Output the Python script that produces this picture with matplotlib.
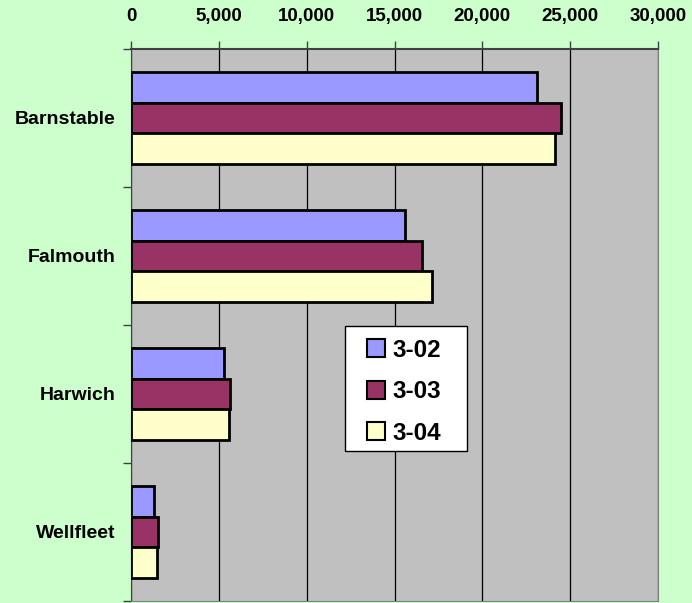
import matplotlib.pyplot as plt
from matplotlib.patches import Rectangle
import numpy as np

towns = ['Barnstable', 'Falmouth', 'Harwich', 'Wellfleet']
series = ['3-02', '3-03', '3-04']
v_302 = [23100, 15600, 5300, 1320]
v_303 = [24500, 16550, 5640, 1540]
v_304 = [24150, 17150, 5600, 1460]
colors = ['#9999FF', '#993366', '#FFFFCC']

plt.rcParams['font.family'] = ['Liberation Sans', 'DejaVu Sans']

W, H = 692, 603
fig = plt.figure(figsize=(W / 100, H / 100), dpi=100, facecolor='#CCFFCC')
ax = fig.add_axes([131 / W, 1 - 601 / H, (658 - 131) / W, (601 - 49) / H])
ax.set_facecolor('#C0C0C0')

y = np.arange(len(towns))
h = 0.222
for i, (vals, c, lab) in enumerate(zip([v_302, v_303, v_304], colors, series)):
    ax.barh(y + (i - 1) * h, vals, height=h, color=c, edgecolor='black',
            linewidth=2, label=lab, zorder=3)

ax.set_xlim(0, 30000)
ax.set_ylim(len(towns) - 0.5, -0.5)
ax.xaxis.tick_top()
ax.set_xticks(np.arange(0, 30001, 5000))
ax.set_xticklabels([f'{v:,}' for v in range(0, 30001, 5000)],
                   fontsize=13.5, fontweight='bold')
ax.tick_params(axis='x', length=6, width=1, color='#404040', pad=11)
ax.grid(axis='x', color='black', linewidth=0.9, zorder=1)

# category labels centred in each band, tick marks on the band boundaries
ax.set_yticks(y)
ax.set_yticklabels(towns, fontsize=14, fontweight='bold')
ax.tick_params(axis='y', length=0, pad=11)
ax.set_yticks(np.arange(-0.5, len(towns) + 0.5, 1), minor=True)
ax.tick_params(axis='y', which='minor', length=6, width=1, color='#404040')

for s in ['right', 'bottom']:
    ax.spines[s].set_color('#808080')
ax.spines['top'].set_color('#404040')
ax.spines['top'].set_linewidth(1.5)
ax.spines['left'].set_color('#404040')

# legend box drawn separately so the padding can be wider at the sides
ax.add_patch(Rectangle((345 / W, 1 - 451 / H), (467 - 345) / W, (451 - 326) / H,
                       transform=fig.transFigure, facecolor='white',
                       edgecolor='black', linewidth=1, zorder=5, clip_on=False))
leg = ax.legend(loc='upper left', bbox_to_anchor=(355 / W, 1 - 326.5 / H),
                bbox_transform=fig.transFigure, frameon=False, borderpad=0,
                handlelength=0.75, handleheight=0.75, handletextpad=0.28,
                labelspacing=0.76, prop={'size': 17.5, 'weight': 'bold'})
leg.set_zorder(6)
for p in leg.get_patches():
    p.set_linewidth(1.5)

fig.savefig('out.png', dpi=100, facecolor=fig.get_facecolor())
